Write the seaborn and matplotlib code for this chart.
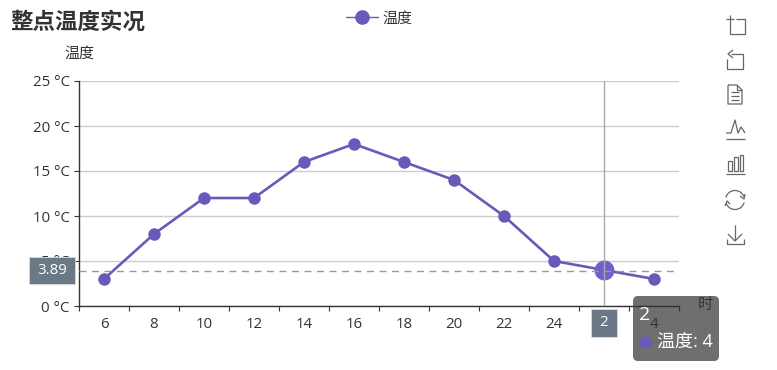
import numpy as np
import pandas as pd
import seaborn as sns
import matplotlib.pyplot as plt
from matplotlib.patches import FancyBboxPatch, Rectangle, Arc

hours = ['6', '8', '10', '12', '14', '16', '18', '20', '22', '24', '2', '4']
temps = [3, 8, 12, 12, 16, 18, 16, 14, 10, 5, 4, 3]
y_ticks = [0, 5, 10, 15, 20, 25]
y_labels = ['0 °C', '5 °C', '10 °C', '15 °C', '20 °C', '25 °C']
series_name = '温度'
title = '整点温度实况'
hover_hour = '2'
hover_value = 4
pointer_value = 3.89

color = '#675bba'
text_color = '#333333'

sns.set_theme(style='white')
plt.rcParams['font.family'] = ['Open Sans', 'Noto Sans CJK SC', 'DejaVu Sans']

W, H = 777, 370
fig = plt.figure(figsize=(W / 100, H / 100), dpi=100)
ax = fig.add_axes([79 / W, 1 - 306 / H, 600 / W, 225 / H])

df = pd.DataFrame({'hour': hours, series_name: temps})
sns.lineplot(data=df, x='hour', y=series_name, sort=False, color=color, linewidth=1.9,
             marker='o', markersize=9, markeredgewidth=0, label=series_name, ax=ax)

# highlighted point and axis pointers
hover = df[df['hour'] == hover_hour]
sns.scatterplot(data=hover, x='hour', y=series_name, color='#6f60cc', s=205, linewidth=0, ax=ax,
                legend=False, zorder=4)
ax.axvline(hours.index(hover_hour), color='#aaaaaa', lw=1, zorder=5)
ax.axhline(pointer_value, color='#999999', lw=1, ls=(0, (5, 4)), zorder=5)

ax.set_xlim(-0.5, len(hours) - 0.5)
ax.set_ylim(0, 25)
ax.set_xlabel('')
ax.set_ylabel('')
ax.set_yticks(y_ticks)
ax.set_yticklabels(y_labels)
ax.set_xticks(range(len(hours)))
ax.set_xticklabels(hours)
ax.set_xticks(np.arange(len(hours) + 1) - 0.5, minor=True)
ax.tick_params(axis='x', which='major', length=0, pad=8, labelsize=10.8, labelcolor=text_color)
ax.tick_params(axis='x', which='minor', length=3.6, width=0.8, color=text_color, bottom=True)
ax.tick_params(axis='y', length=3.6, width=0.8, color=text_color, left=True, pad=3, labelsize=10.8, labelcolor=text_color)
ax.grid(axis='y', color='#cccccc', lw=1)
ax.grid(axis='x', visible=False)
ax.set_axisbelow(True)
for side in ['top', 'right']:
    ax.spines[side].set_visible(False)
for side in ['left', 'bottom']:
    ax.spines[side].set_color(text_color)
    ax.spines[side].set_linewidth(1)

leg = ax.legend(loc='center', bbox_to_anchor=(379 / W, 1 - 19 / H), bbox_transform=fig.transFigure,
                frameon=False, fontsize=10.8, handlelength=2.1, handletextpad=0.3, labelcolor=text_color)
leg.legend_handles[0].set_linewidth(1)
leg.legend_handles[0].set_markersize(10.5)

# overlay in pixel coordinates for the title, tooltip and toolbox
ov = fig.add_axes([0, 0, 1, 1], zorder=5)
ov.set_xlim(0, W)
ov.set_ylim(H, 0)
ov.axis('off')

ov.text(10, 23, title, fontsize=16.2, fontweight='bold', color=text_color, va='center')
ov.text(79, 54, series_name, fontsize=10.8, color=text_color, va='center', ha='center')
ov.text(705, 305, '时', fontsize=10.8, color=text_color, va='center', ha='center')

ov.add_patch(Rectangle((29, 257), 46, 27, fc='#6a7985', ec='#d8dbdf', lw=0.6))
ov.text(52, 270, f'{pointer_value}', fontsize=10.8, color='white', ha='center', va='center')
ov.add_patch(Rectangle((591, 309), 26, 28, fc='#6a7985', ec='#d8dbdf', lw=0.6))
ov.text(604, 322, hover_hour, fontsize=10.8, color='white', ha='center', va='center')

ov.add_patch(FancyBboxPatch((637, 300), 78, 57, boxstyle='round,pad=4,rounding_size=5',
                            fc=(0.196, 0.196, 0.196, 0.7), ec='none'))
ov.text(639, 315, hover_hour, fontsize=14, color='white', va='center')
ov.scatter([645], [342], s=75, color=color, linewidth=0)
ov.text(657, 342, f'{series_name}: {hover_value}', fontsize=13, color='white', va='center')

# toolbox icons
icon = dict(color='#666666', lw=0.9, solid_capstyle='butt')
def stroke(xs, ys):
    ov.plot(xs, ys, **icon)

stroke([726, 734], [19, 19])
stroke([736, 745, 745, 730, 730], [19, 19, 34, 34, 15])
stroke([727, 727, 743, 743, 731], [59, 69, 69, 54, 54])
stroke([733, 728, 733], [50, 54, 58])
stroke([728, 737, 742, 742, 728, 728], [85, 85, 90, 104, 104, 85])
stroke([737, 737, 742], [85, 90, 90])
for y in [92, 96, 100]:
    stroke([731, 739], [y, y])
stroke([726, 731, 735, 738, 741, 745], [133, 133, 120, 133, 127, 133])
stroke([726, 745], [139, 139])
ov.add_patch(Rectangle((728, 161), 4, 10, fc='none', ec='#666666', lw=0.9))
ov.add_patch(Rectangle((734, 157), 4, 14, fc='none', ec='#666666', lw=0.9))
ov.add_patch(Rectangle((740, 155), 3, 16, fc='none', ec='#666666', lw=0.9))
stroke([726, 745], [174, 174])
ov.add_patch(Arc((735, 200), 19, 19, theta1=195, theta2=340, ec='#666666', lw=0.9))
ov.add_patch(Arc((735, 200), 19, 19, theta1=15, theta2=160, ec='#666666', lw=0.9))
stroke([745, 744, 740], [194, 199, 196])
stroke([725, 727, 730], [206, 201, 204])
stroke([735, 735], [225, 240])
stroke([728, 735, 742], [234, 241, 234])
stroke([727, 727, 744, 744], [239, 244, 244, 239])

fig.savefig('out.png', dpi=100)
